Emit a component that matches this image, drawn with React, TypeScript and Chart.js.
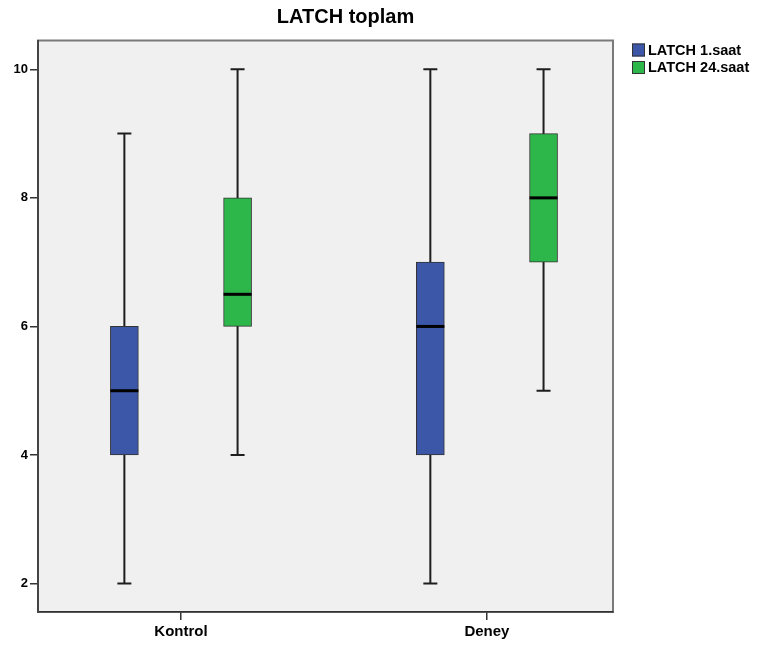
import { useEffect, useRef } from 'react';
import { Chart, registerables } from 'chart.js';

Chart.register(...registerables);

const titleText = 'LATCH toplam';
const categories = ['Kontrol', 'Deney'];
const seriesLabels = ['LATCH 1.saat', 'LATCH 24.saat'];
const seriesColors = ['#3c56a8', '#2db74a'];

// LATCH 1.saat
const hour1Min = [2, 2];
const hour1Q1 = [4, 4];
const hour1Median = [5, 6];
const hour1Q3 = [6, 7];
const hour1Max = [9, 10];

// LATCH 24.saat
const hour24Min = [4, 5];
const hour24Q1 = [6, 7];
const hour24Median = [6.5, 8];
const hour24Q3 = [8, 9];
const hour24Max = [10, 10];

const yTicks = [2, 4, 6, 8, 10];

const FONT = '"Liberation Sans", Arial, sans-serif';
const GROUP_OFFSET = [-0.185, 0.185];
const BOX_PX = 28;
const CAP_PX = 14;

const stats = [
  { min: hour1Min, q1: hour1Q1, med: hour1Median, q3: hour1Q3, max: hour1Max },
  { min: hour24Min, q1: hour24Q1, med: hour24Median, q3: hour24Q3, max: hour24Max },
];

const catPos = (j: number) => j + 1;

const boxPlugin = {
  id: 'boxExtras',
  beforeDraw(chart: any) {
    const { ctx, chartArea: a } = chart;
    ctx.save();
    ctx.fillStyle = '#f0f0f0';
    ctx.fillRect(a.left, a.top, a.right - a.left, a.bottom - a.top);
    ctx.strokeStyle = '#7a7a7a';
    ctx.lineWidth = 2;
    ctx.strokeRect(a.left, a.top, a.right - a.left, a.bottom - a.top);
    ctx.restore();
  },
  beforeDatasetsDraw(chart: any) {
    const { ctx } = chart;
    const xs = chart.scales.x;
    const ys = chart.scales.y;
    ctx.save();
    ctx.strokeStyle = '#1e1e1e';
    ctx.lineWidth = 2;
    stats.forEach((s, i) => {
      categories.forEach((_, j) => {
        const x = xs.getPixelForValue(catPos(j) + GROUP_OFFSET[i]);
        const yLo = ys.getPixelForValue(s.min[j]);
        const yHi = ys.getPixelForValue(s.max[j]);
        ctx.beginPath();
        ctx.moveTo(x, yLo);
        ctx.lineTo(x, yHi);
        ctx.moveTo(x - CAP_PX / 2, yLo);
        ctx.lineTo(x + CAP_PX / 2, yLo);
        ctx.moveTo(x - CAP_PX / 2, yHi);
        ctx.lineTo(x + CAP_PX / 2, yHi);
        ctx.stroke();
      });
    });
    ctx.restore();
  },
  afterDatasetsDraw(chart: any) {
    const { ctx } = chart;
    const xs = chart.scales.x;
    const ys = chart.scales.y;
    ctx.save();
    ctx.strokeStyle = '#000';
    ctx.lineWidth = 3;
    stats.forEach((s, i) => {
      categories.forEach((_, j) => {
        const x = xs.getPixelForValue(catPos(j) + GROUP_OFFSET[i]);
        const y = ys.getPixelForValue(s.med[j]);
        ctx.beginPath();
        ctx.moveTo(x - BOX_PX / 2, y);
        ctx.lineTo(x + BOX_PX / 2, y);
        ctx.stroke();
      });
    });
    ctx.restore();
  },
  afterDraw(chart: any) {
    const { ctx, chartArea: a } = chart;
    ctx.save();
    ctx.fillStyle = '#000';
    ctx.font = `bold 20px ${FONT}`;
    ctx.textAlign = 'center';
    ctx.textBaseline = 'middle';
    ctx.fillText(titleText, (a.left + a.right) / 2 + 20, 17.5);
    // legend
    ctx.font = `bold 14.5px ${FONT}`;
    ctx.textAlign = 'left';
    chart.data.datasets.forEach((ds: any, i: number) => {
      const bx = a.right + 19;
      const by = 43.5 + i * 17.5;
      ctx.fillStyle = ds.backgroundColor;
      ctx.fillRect(bx, by, 13, 13);
      ctx.strokeStyle = '#333';
      ctx.lineWidth = 1;
      ctx.strokeRect(bx + 0.5, by + 0.5, 12, 12);
      ctx.fillStyle = '#000';
      ctx.fillText(ds.label, bx + 16, by + 7);
    });
    ctx.restore();
  },
};

export default function App() {
  const ref = useRef<HTMLCanvasElement | null>(null);
  useEffect(() => {
    if (!ref.current) return;
    const chart = new Chart(ref.current, {
      type: 'bar',
      data: {
        datasets: stats.map((s, i) => ({
          label: seriesLabels[i],
          backgroundColor: seriesColors[i],
          borderColor: '#333',
          borderWidth: 1,
          borderSkipped: false,
          barThickness: BOX_PX,
          grouped: false,
          data: categories.map((_, j) => ({ x: catPos(j) + GROUP_OFFSET[i], y: [s.q1[j], s.q3[j]] })),
        })) as any,
      },
      options: {
        animation: false,
        responsive: true,
        maintainAspectRatio: false,
        layout: { padding: { top: 40.5, right: 145, left: 0, bottom: 0 } },
        plugins: { legend: { display: false }, tooltip: { enabled: false }, title: { display: false } },
        scales: {
          x: {
            type: 'linear',
            min: 0.5327,
            max: 2.412,
            offset: false,
            afterFit: (s: any) => { s.height = 34; },
            afterBuildTicks: (s: any) => { s.ticks = categories.map((_, j) => ({ value: catPos(j) })); },
            grid: { offset: false, drawOnChartArea: false, drawTicks: true, tickLength: 8, color: '#333', lineWidth: 1.5 },
            border: { display: true, color: '#333', width: 1.5 },
            ticks: {
              padding: 3,
              color: '#000',
              font: { family: FONT, size: 15, weight: 'bold' },
              callback: (v: any) => categories[Math.round(Number(v)) - 1] ?? '',
            },
          },
          y: {
            type: 'linear',
            min: 1.558,
            max: 10.448,
            afterFit: (s: any) => { s.width = 38; },
            afterBuildTicks: (s: any) => { s.ticks = yTicks.map((v) => ({ value: v })); },
            grid: { drawOnChartArea: false, drawTicks: true, tickLength: 8, color: '#333', lineWidth: 1.5 },
            border: { display: true, color: '#444', width: 2 },
            ticks: {
              padding: 2,
              color: '#000',
              font: { family: FONT, size: 13, weight: 'bold' },
            },
          },
        },
      } as any,
      plugins: [boxPlugin],
    });
    return () => chart.destroy();
  }, []);
  return (
    <div style={{ position: 'fixed', left: 0, top: 0, width: 758, height: 646, background: '#fff' }}>
      <canvas ref={ref} />
    </div>
  );
}
